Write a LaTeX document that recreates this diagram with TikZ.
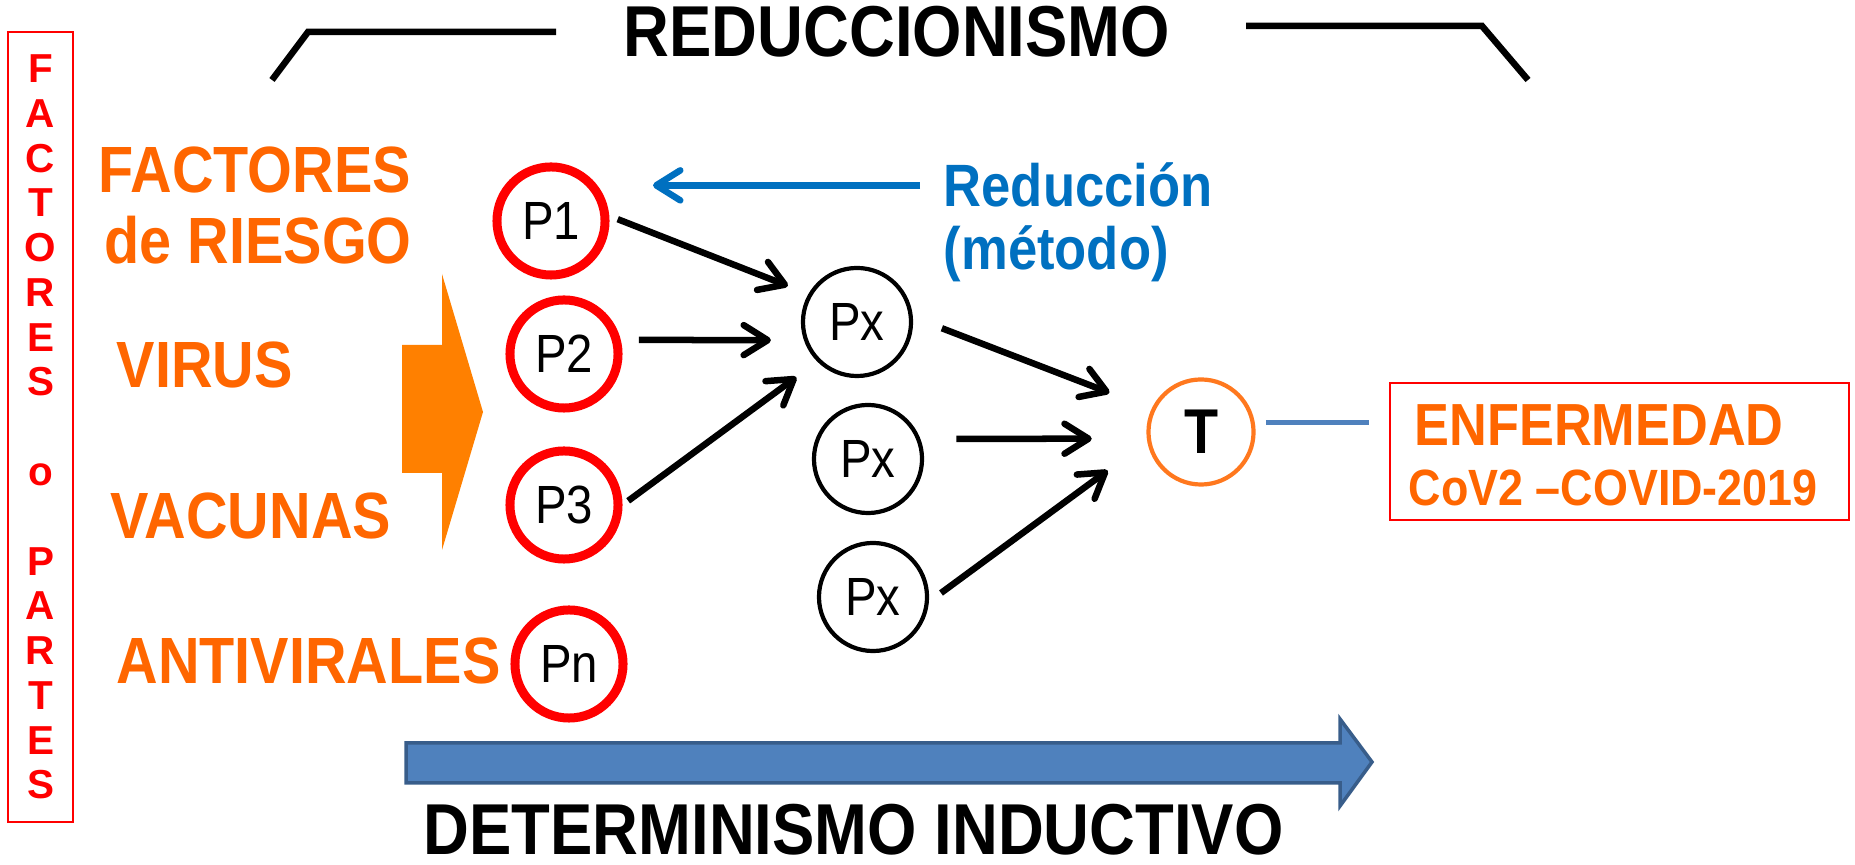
\documentclass[tikz,border=0pt]{standalone}
\usepackage{fontspec}
\setmainfont{Liberation Sans}
\newfontfamily\estrecha{Liberation Sans}[FakeStretch=0.88]
\usetikzlibrary{arrows.meta}
\definecolor{rojo}{RGB}{255,0,0}
\definecolor{naranja}{RGB}{255,102,0}
\definecolor{naranjaflecha}{RGB}{255,128,0}
\definecolor{naranjat}{RGB}{255,120,30}
\definecolor{azul}{RGB}{0,112,192}
\definecolor{azulflecha}{RGB}{79,129,189}
\definecolor{azulborde}{RGB}{56,93,138}
\begin{document}
\begin{tikzpicture}[x=0.01cm, y=-0.01cm,
        parte/.style={circle, draw=rojo, line width=0.09cm, minimum size=1.08cm, inner sep=0pt, font=\estrecha\fontsize{15.3}{18}\selectfont},
        paso/.style={circle, draw=black, line width=0.042cm, minimum size=1.08cm, inner sep=0pt, font=\estrecha\fontsize{15.3}{18}\selectfont},
        factor/.style={anchor=base west, inner sep=0pt, text=naranja, font=\estrecha\bfseries\fontsize{18.6}{21}\selectfont},
        titulo/.style={anchor=base west, inner sep=0pt, font=\estrecha\bfseries\fontsize{20.5}{24}\selectfont},
        flecha/.style={line width=0.065cm, -{Straight Barb[length=0.24cm, width=0.3cm, round]}}]
        \useasboundingbox (0,0) rectangle (1855,865);

        \node[titulo] (reduccionismo) at (623,57) {REDUCCIONISMO};
        \draw[line width=0.065cm] (272,80) -- (308,32) -- (556,32);
        \draw[line width=0.065cm] (1246,26) -- (1482,26) -- (1528,80);

        \node[draw=rojo, line width=0.02cm, minimum width=0.65cm, minimum height=7.9cm, align=center, text=rojo,
            font=\bfseries\fontsize{11.5}{12.73}\selectfont] (partes) at (40.5,427)
            {F\\A\\C\\T\\O\\R\\E\\S\\[12.73pt]o\\[12.73pt]P\\A\\R\\T\\E\\S};

        \node[factor] (factores) at (98,193) {FACTORES};
        \node[factor] (riesgo) at (104,264) {de RIESGO};
        \node[factor] (virus) at (116,388) {VIRUS};
        \node[factor] (vacunas) at (110,539) {VACUNAS};
        \node[factor] (antivirales) at (116,684) {ANTIVIRALES};

        \fill[naranjaflecha] (402,345) -- (442,345) -- (442,274) -- (483,412) -- (442,550) -- (442,473) -- (402,473) -- cycle;

        \node[parte] (P1) at (551,221) {P1};
        \node[parte] (P2) at (564,354) {P2};
        \node[parte] (P3) at (564,505) {P3};
        \node[parte] (Pn) at (569,664) {Pn};

        \node[paso] (Px1) at (857,322) {Px};
        \node[paso] (Px2) at (868,459) {Px};
        \node[paso] (Px3) at (873,597) {Px};

        \node[circle, draw=naranjat, line width=0.042cm, minimum size=1.05cm, inner sep=0pt,
            font=\estrecha\bfseries\fontsize{18}{21}\selectfont] (T) at (1201,432) {T};

        \draw[flecha, shorten <=0.09cm, shorten >=0.22cm] (P1.5) -- (Px1.150);
        \draw[flecha, shorten <=0.18cm, shorten >=0.33cm] (P2.14) -- (Px1.199);
        \draw[flecha, shorten <=0.07cm, shorten >=0.26cm] (P3.east) -- (Px1.225);
        \draw[flecha, shorten <=0.31cm, shorten >=0.45cm] (Px1.5) -- (T.155);
        \draw[flecha, shorten <=0.36cm, shorten >=0.55cm] (Px2.21) -- (T.187);
        \draw[flecha, shorten <=0.15cm, shorten >=0.49cm] (Px3.-5) -- (T.190);

        \node[anchor=base west, inner sep=0pt, text=azul, font=\estrecha\bfseries\fontsize{17}{20}\selectfont] (reduc) at (943,207) {Reducción};
        \node[anchor=base west, inner sep=0pt, text=azul, font=\estrecha\bfseries\fontsize{17}{20}\selectfont] (metodo) at (943,270) {(método)};
        \coordinate (redtip) at (653,180);
        \draw[flecha, azul, shorten <=0.23cm] (reduc.west) -- (reduc.west -| redtip);

        \node[draw=rojo, line width=0.02cm, minimum width=4.59cm, minimum height=1.37cm] (enf) at (1619.5,451.5) {};
        \node[anchor=base west, inner sep=0pt, text=naranja, font=\estrecha\bfseries\fontsize{16.9}{20}\selectfont] (enfermedad) at (1414,446) {ENFERMEDAD};
        \node[anchor=base west, inner sep=0pt, text=naranja, font=\estrecha\bfseries\fontsize{14.5}{17}\selectfont] (covid) at (1408,506) {CoV2 –COVID-2019};
        \draw[azulflecha, line width=0.05cm, shorten <=0.11cm, shorten >=0.2cm] (T.10) -- (T.10 -| enf.west);

        \filldraw[fill=azulflecha, draw=azulborde, line width=0.035cm] (406,743) -- (1340,743) -- (1340,719) -- (1372,762) -- (1340,806) -- (1340,783) -- (406,783) -- cycle;
        \node[titulo] (determinismo) at (423,855) {DETERMINISMO INDUCTIVO};
\end{tikzpicture}
\end{document}
